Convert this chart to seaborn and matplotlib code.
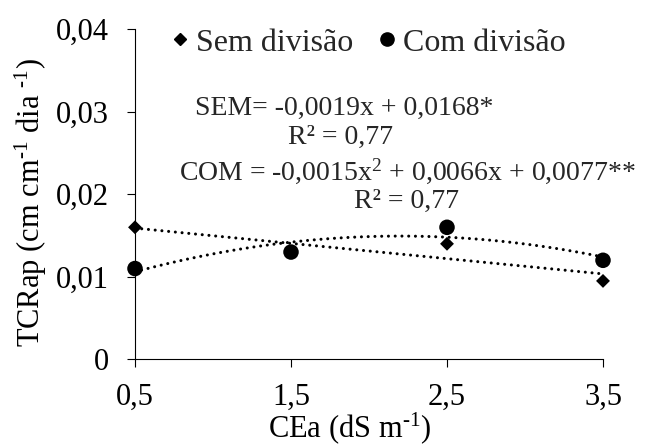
import matplotlib
matplotlib.use("Agg")
import matplotlib.pyplot as plt
from matplotlib.lines import Line2D
import seaborn as sns
import pandas as pd

# Data
cea = [0.5, 1.5, 2.5, 3.5]
sem_divisao = [0.016, 0.013, 0.014, 0.0095]
com_divisao = [0.011, 0.013, 0.016, 0.012]
x_ticks = [0.5, 1.5, 2.5, 3.5]
x_ticklabels = ["0,5", "1,5", "2,5", "3,5"]
y_ticks = [0, 0.01, 0.02, 0.03, 0.04]
y_ticklabels = ["0", "0,01", "0,02", "0,03", "0,04"]
eq_sem = "SEM= -0,0019x + 0,0168*"
eq_com = "COM = -0,0015x$^{2}$ + 0,0066x + 0,0077**"
r2_sem = "R² = 0,77"
r2_com = "R² = 0,77"

df = pd.DataFrame({"CEa": cea, "Sem": sem_divisao, "Com": com_divisao})

sns.set_theme(style="ticks")
plt.rcParams["font.family"] = ["Liberation Serif", "DejaVu Serif"]
plt.rcParams["mathtext.fontset"] = "custom"
plt.rcParams["mathtext.rm"] = "Liberation Serif"
plt.rcParams["mathtext.it"] = "Liberation Serif"
plt.rcParams["mathtext.default"] = "regular"

fig = plt.figure(figsize=(6.46, 4.46), dpi=100)
ax = fig.add_axes([135 / 646, 1 - 359.3 / 446, (603 - 135) / 646, (359.3 - 29.3) / 446])

line_kws = dict(color="black", linestyle=(0, (0.01, 2.2)), linewidth=2.2,
                dash_capstyle="round")
sns.regplot(data=df, x="CEa", y="Sem", order=1, ci=None, scatter=False, truncate=True,
            line_kws=line_kws, ax=ax)
sns.regplot(data=df, x="CEa", y="Com", order=2, ci=None, scatter=False, truncate=True,
            line_kws=line_kws, ax=ax)
for l in ax.lines:
    l.set_clip_on(False)
    l.set_dash_capstyle("round")

sns.scatterplot(data=df, x="CEa", y="Sem", marker="D", s=50, color="black",
                edgecolor="none", clip_on=False, zorder=3, ax=ax)
sns.scatterplot(data=df, x="CEa", y="Com", marker="o", s=125, color="black",
                edgecolor="none", clip_on=False, zorder=4, ax=ax)

ax.set_xlim(0.5, 3.5)
ax.set_ylim(0, 0.04)
ax.set_xticks(x_ticks)
ax.set_xticklabels(x_ticklabels)
ax.set_yticks(y_ticks)
ax.set_yticklabels(y_ticklabels)
ax.tick_params(axis="both", labelsize=22, length=6, width=0.8, color="black",
               labelcolor="black", direction="out")
ax.tick_params(axis="x", pad=11)
ax.tick_params(axis="y", pad=13)
sns.despine(ax=ax)
for s in ["left", "bottom"]:
    ax.spines[s].set_color("black")
    ax.spines[s].set_linewidth(0.8)

ax.set_xlabel(r"CEa (dS m$^{\text{-}1}$)", fontsize=22, color="black")
ax.set_ylabel(r"TCRap (cm cm$^{\text{-}1}$ dia $^{\text{-}1}$)", fontsize=22,
              color="black")
ax.xaxis.set_label_coords((350 - 135) / 468, -(410 - 359.3) / 330)
ax.yaxis.set_label_coords((49 - 135) / 468, 0.475)

handles = [
    Line2D([], [], marker="D", color="black", linestyle="none", markersize=6),
    Line2D([], [], marker="o", color="black", linestyle="none", markersize=9.5),
]
fig.legend(handles, ["Sem divisão", "Com divisão"], loc="center",
           bbox_to_anchor=(368 / 646, 1 - 43 / 446), ncol=2, frameon=False,
           fontsize=23, handlelength=0.6, handletextpad=0.2, columnspacing=0.75,
           borderpad=0)

fig.text(344 / 646, 1 - 108 / 446, eq_sem, ha="center", va="center", fontsize=20)
fig.text(340 / 646, 1 - 137 / 446, r2_sem, ha="center", va="center", fontsize=20)
fig.text(407 / 646, 1 - 171 / 446, eq_com, ha="center", va="center", fontsize=20)
fig.text(406 / 646, 1 - 201 / 446, r2_com, ha="center", va="center", fontsize=20)

fig.savefig("out.png", dpi=100)
